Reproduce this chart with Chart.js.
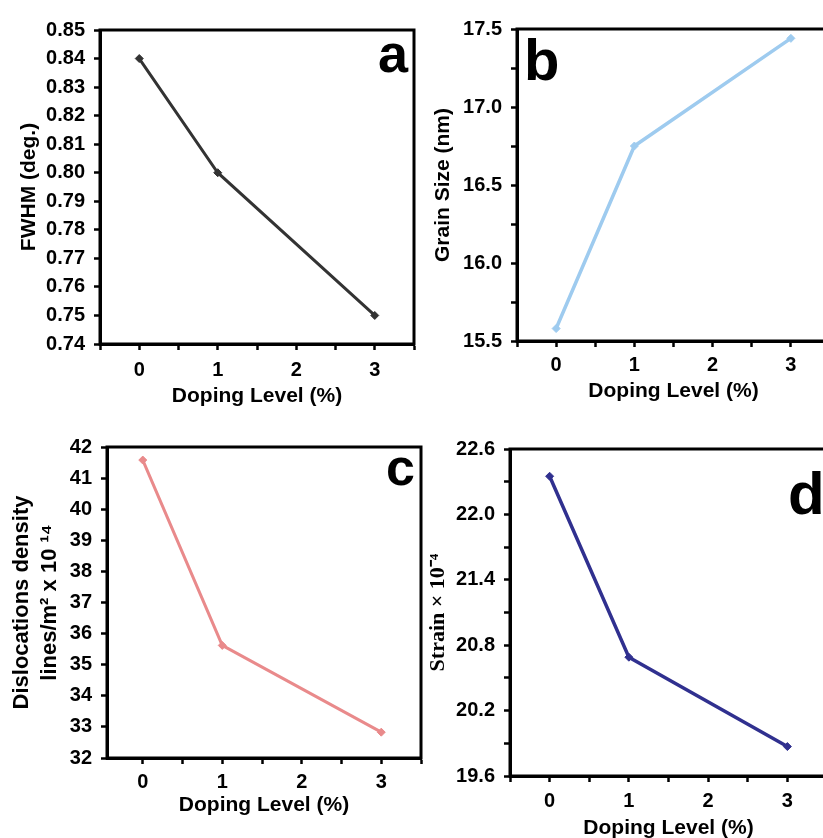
<!doctype html>
<html>

<head>
	<title>Doping level: FWHM, grain size, dislocation density, strain</title>
	<script src="https://cdn.jsdelivr.net/npm/chart.js@4.4.1/dist/chart.umd.min.js"></script>
	<style>
		html, body { margin: 0; padding: 0; background: #fff; overflow: hidden; }
		#page { position: relative; width: 823px; height: 838px; overflow: hidden; }
		#page canvas { position: absolute; }
	</style>
</head>

<body>
	<div id="page">
		<canvas id="chart-a"></canvas>
		<canvas id="chart-b"></canvas>
		<canvas id="chart-c"></canvas>
		<canvas id="chart-d"></canvas>
	</div>

	<script>
		// values
		const dopingLevels = [0, 1, 3];
		const fwhm = [0.84, 0.80, 0.75];
		const grainSize = [15.58, 16.75, 17.44];
		const dislocationDensity = [41.58, 35.62, 32.83];
		const strain = [22.35, 20.69, 19.87];
		const xTickValues = [-0.5, 0, 0.5, 1, 1.5, 2, 2.5, 3, 3.5];
		const xTickLabels = ['0', '1', '2', '3'];

		const SANS = '"Liberation Sans", Arial, sans-serif';
		Chart.defaults.font.family = SANS;
		Chart.defaults.color = '#000';

		// thick black frame round the plot area plus the big panel letter
		function framePlugin(letter) {
			return {
				id: 'frame',
				afterDraw(chart) {
					const ctx = chart.ctx;
					const a = chart.chartArea;
					ctx.save();
					ctx.strokeStyle = '#000';
					ctx.lineWidth = 3;
					ctx.strokeRect(a.left, a.top, a.right - a.left, a.bottom - a.top);
					ctx.fillStyle = '#000';
					ctx.font = 'bold ' + letter.size + 'px ' + SANS;
					ctx.textAlign = letter.align;
					ctx.textBaseline = 'alphabetic';
					const x = letter.align === 'right' ? a.right + letter.dx : a.left + letter.dx;
					ctx.fillText(letter.text, x, a.top + letter.dy);
					ctx.restore();
				}
			};
		}

		function makePanel(id, p) {
			const canvas = document.getElementById(id);
			canvas.width = p.box.width;
			canvas.height = p.box.height;
			canvas.style.left = p.box.left + 'px';
			canvas.style.top = p.box.top + 'px';

			return new Chart(canvas.getContext('2d'), {
				type: 'line',
				data: {
					datasets: [{
						data: dopingLevels.map((x, i) => ({ x: x, y: p.values[i] })),
						borderColor: p.color,
						backgroundColor: p.color,
						borderWidth: p.lineWidth,
						pointStyle: 'rectRot',
						pointRadius: 4,
						pointBorderWidth: 1,
						tension: 0,
						clip: false
					}]
				},
				options: {
					responsive: false,
					animation: false,
					events: [],
					layout: { padding: { top: 14, right: 4, left: 0, bottom: 0 } },
					plugins: { legend: { display: false }, tooltip: { enabled: false } },
					scales: {
						x: {
							type: 'linear',
							min: p.xMin,
							max: 3.5,
							afterBuildTicks(s) {
								s.ticks = xTickValues.filter(v => v >= p.xMin).map(v => ({ value: v }));
							},
							afterFit(s) { s.height = p.xHeight; },
							ticks: {
								autoSkip: false,
								maxRotation: 0,
								padding: p.xTickPad,
								font: { size: 20, weight: 'bold' },
								callback: v => (Number.isInteger(v) && v >= 0 ? xTickLabels[v] : '')
							},
							grid: { drawOnChartArea: false, drawTicks: true, tickLength: 6, tickWidth: 2.5, tickColor: '#000' },
							border: { display: true, color: '#000', width: 3 },
							title: {
								display: true,
								text: 'Doping Level (%)',
								font: { size: 21, weight: 'bold' },
								padding: { top: 0, bottom: p.xTitlePad }
							}
						},
						y: {
							min: p.yMin,
							max: p.yMax,
							afterFit(s) { s.width = p.yWidth; },
							ticks: {
								stepSize: p.yStep,
								autoSkip: false,
								padding: 9,
								font: { size: 20, weight: 'bold' },
								callback: (v, i) => (i % p.yLabelEvery === 0 ? v.toFixed(p.yDecimals) : '')
							},
							grid: { drawOnChartArea: false, drawTicks: true, tickLength: 6, tickWidth: 2.5, tickColor: '#000' },
							border: { display: true, color: '#000', width: 3 },
							title: {
								display: true,
								text: p.yTitle,
								font: p.yTitleFont,
								padding: { top: p.yTitlePad, bottom: 0 }
							}
						}
					}
				},
				plugins: [framePlugin(p.letter)]
			});
		}

		makePanel('chart-a', {
			box: { left: 0, top: 9, width: 422, height: 403 },
			yWidth: 100, xHeight: 68, xMin: -0.5, xTickPad: 8, xTitlePad: 3,
			values: fwhm, color: '#333333', lineWidth: 3,
			yMin: 0.74, yMax: 0.85, yStep: 0.01, yLabelEvery: 1, yDecimals: 2,
			yTitle: 'FWHM (deg.)', yTitleFont: { size: 21, weight: 'bold' }, yTitlePad: 17,
			letter: { text: 'a', size: 54, align: 'right', dx: -6, dy: 42 }
		});

		makePanel('chart-b', {
			box: { left: 420, top: 8, width: 416, height: 397 },
			yWidth: 97, xHeight: 64, xMin: -0.5, xTickPad: 6, xTitlePad: 1,
			values: grainSize, color: '#9ecbef', lineWidth: 3.5,
			yMin: 15.5, yMax: 17.5, yStep: 0.25, yLabelEvery: 2, yDecimals: 1,
			yTitle: 'Grain Size (nm)', yTitleFont: { size: 21, weight: 'bold' }, yTitlePad: 11,
			letter: { text: 'b', size: 58, align: 'left', dx: 7, dy: 51 }
		});

		makePanel('chart-c', {
			box: { left: 0, top: 426, width: 427, height: 399 },
			yWidth: 107, xHeight: 67, xMin: -0.45, xTickPad: 6, xTitlePad: 7,
			values: dislocationDensity, color: '#e98a8b', lineWidth: 3,
			yMin: 32, yMax: 42, yStep: 1, yLabelEvery: 1, yDecimals: 0,
			yTitle: ['Dislocations density', 'lines/m\u00b2 x 10 \u00b9\u2074'],
			yTitleFont: { size: 22, weight: 'bold', lineHeight: 1.27 }, yTitlePad: 8,
			letter: { text: 'c', size: 52, align: 'right', dx: -6, dy: 38 }
		});

		makePanel('chart-d', {
			box: { left: 420, top: 428, width: 414, height: 417 },
			yWidth: 90, xHeight: 69, xMin: -0.5, xTickPad: 7, xTitlePad: 4,
			values: strain, color: '#30308f', lineWidth: 3.5,
			yMin: 19.6, yMax: 22.6, yStep: 0.3, yLabelEvery: 2, yDecimals: 1,
			yTitle: 'Strain \u00d7 10\u207b\u2074',
			yTitleFont: { size: 22, weight: 'bold', family: '"Liberation Serif", "Times New Roman", serif' }, yTitlePad: 5,
			letter: { text: 'd', size: 60, align: 'left', dx: 278, dy: 65 }
		});
	</script>
</body>

</html>
